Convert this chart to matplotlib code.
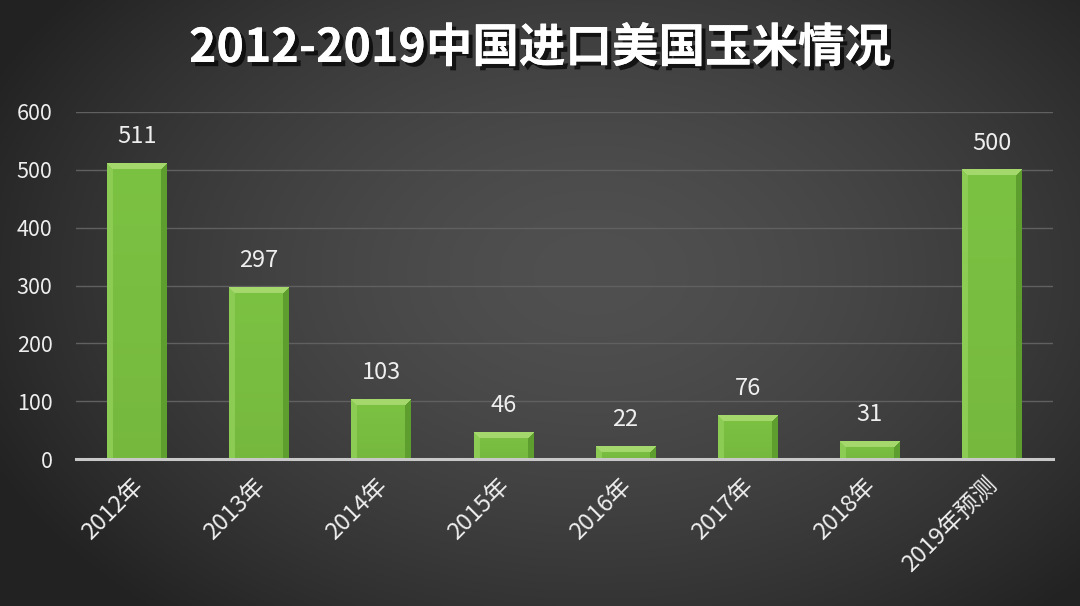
import numpy as np
import matplotlib
matplotlib.use("Agg")
import matplotlib.pyplot as plt
import matplotlib.patheffects as pe
import matplotlib.transforms as mtransforms

plt.rcParams['font.family'] = ['Noto Sans CJK SC', 'DejaVu Sans']

categories = ["2012年", "2013年", "2014年", "2015年", "2016年", "2017年", "2018年", "2019年预测"]
values = [511, 297, 103, 46, 22, 76, 31, 500]
yticks = [0, 100, 200, 300, 400, 500, 600]
title = "2012-2019中国进口美国玉米情况"

W, H, DPI = 1080, 606, 100
fig = plt.figure(figsize=(W / DPI, H / DPI), dpi=DPI)

# radial gradient background
bg = fig.add_axes([0, 0, 1, 1], zorder=-10)
yy, xx = np.mgrid[0:H, 0:W]
d = np.sqrt(((xx - W * 0.55) / (W * 0.62)) ** 2 + ((yy - H * 0.45) / (H * 0.75)) ** 2)
d = np.clip(d, 0, 1)
c_in = np.array([0x50, 0x50, 0x50]) / 255
c_out = np.array([0x22, 0x22, 0x22]) / 255
img = c_in[None, None, :] * (1 - d[..., None] ** 1.6) + c_out[None, None, :] * d[..., None] ** 1.6
bg.imshow(img, aspect='auto', extent=[0, 1, 0, 1], origin='upper')
bg.set_axis_off()

left, right = 76 / W, 1053 / W
bottom, top = 1 - 459 / H, 1 - 112 / H
ax = fig.add_axes([left, bottom, right - left, top - bottom])
ax.patch.set_alpha(0)

x = np.arange(len(categories))
bw = 0.49
bars = ax.bar(x, values, width=bw, color='#7cc242', zorder=3)

ax.set_xlim(-0.5, len(categories) - 0.5)
ax.set_ylim(0, 600)

# beveled shading for each bar
px_per_unit_y = (top - bottom) * H / 600
px_per_unit_x = (right - left) * W / len(categories)
body = np.array([0x7c, 0xc2, 0x42]) / 255
topc = np.array([0xa4, 0xd8, 0x6c]) / 255
leftc = np.array([0x8c, 0xcc, 0x54]) / 255
rightc = np.array([0x5e, 0x9e, 0x2e]) / 255
for rect in bars:
    x0, y0 = rect.get_x(), rect.get_y()
    w, h = rect.get_width(), rect.get_height()
    pw = max(int(round(w * px_per_unit_x)), 2)
    ph = max(int(round(h * px_per_unit_y)), 2)
    b = min(6, ph // 2)
    arr = np.tile(body, (ph, pw, 1))
    rr, cc = np.mgrid[0:ph, 0:pw]
    arr = arr * (1.0 - 0.05 * (rr / ph))[..., None]
    left_m = (cc < b) & (cc <= rr)
    right_m = (cc >= pw - b) & ((pw - 1 - cc) <= rr)
    top_m = (rr < b) & (cc >= rr) & (cc < pw - rr)
    arr[left_m] = leftc
    arr[right_m] = rightc
    arr[top_m] = topc
    ax.imshow(arr, extent=[x0, x0 + w, y0, y0 + h], aspect='auto', zorder=4,
              origin='upper', interpolation='bilinear')
    ax.annotate(f"{int(h)}", (x0 + w / 2, y0 + h), xytext=(0, 15),
                textcoords='offset pixels', ha='center', va='bottom',
                color='#eeeeee', fontsize=17, zorder=6)

ax.set_aspect('auto')
ax.set_xlim(-0.5, len(categories) - 0.5)
ax.set_ylim(0, 600)

ax.set_yticks(yticks)
ax.set_yticklabels([str(t) for t in yticks])
ax.grid(axis='y', color='#606060', linewidth=1.0, zorder=0)
ax.set_axisbelow(True)
for s in ['top', 'right', 'left']:
    ax.spines[s].set_visible(False)
ax.spines['bottom'].set_color('#c8c8c8')
ax.spines['bottom'].set_linewidth(2.2)
ax.spines['bottom'].set_zorder(5)
ax.tick_params(axis='y', length=0, pad=17, labelcolor='#eeeeee', labelsize=15.5)
ax.tick_params(axis='x', length=0, pad=5, labelcolor='#eeeeee', labelsize=17)
ax.set_xticks(x)
ax.set_xticklabels(categories, rotation=45, ha='right', rotation_mode='anchor')
shift = mtransforms.ScaledTranslation(-6 / DPI, -8 / DPI, fig.dpi_scale_trans)
for lbl in ax.get_xticklabels():
    lbl.set_transform(lbl.get_transform() + shift)

fig.text(0.5, 1 - 48 / H, title, ha='center', va='center', color='white',
         fontsize=33.5, fontweight='bold',
         path_effects=[pe.withSimplePatchShadow(offset=(3, -3), shadow_rgbFace='black', alpha=0.7),
                       pe.Normal()])

fig.savefig("out.png", dpi=DPI)
